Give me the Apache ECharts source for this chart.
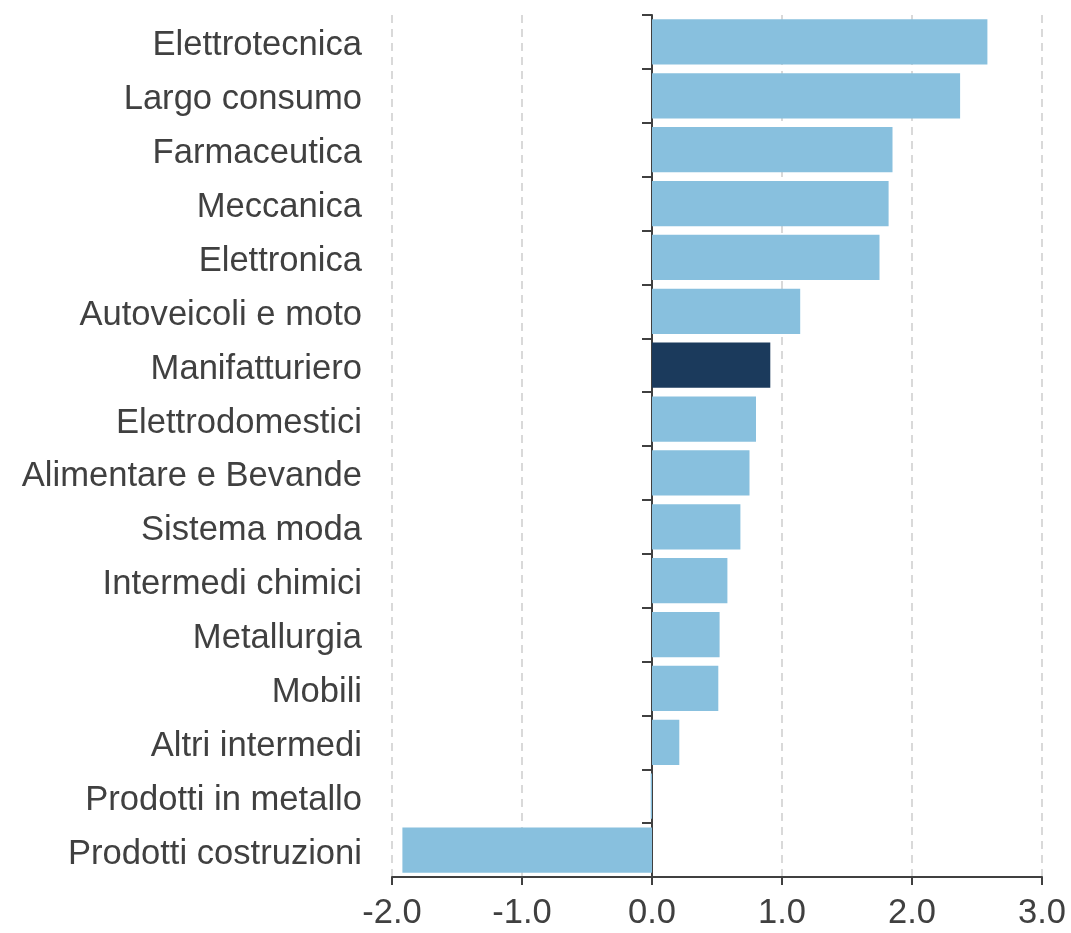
<!DOCTYPE html>
<html>
<head>
<meta charset="utf-8">
<script src="https://cdn.jsdelivr.net/npm/echarts@6/dist/echarts.min.js"></script>
<style>
html,body{margin:0;padding:0;background:#fff;}
#chart{width:1071px;height:933px;}
</style>
</head>
<body>
<div id="chart"></div>
<script>
const categories = ["Elettrotecnica","Largo consumo","Farmaceutica","Meccanica","Elettronica","Autoveicoli e moto","Manifatturiero","Elettrodomestici","Alimentare e Bevande","Sistema moda","Intermedi chimici","Metallurgia","Mobili","Altri intermedi","Prodotti in metallo","Prodotti costruzioni"];
const values = [2.58, 2.37, 1.85, 1.82, 1.75, 1.14, 0.91, 0.80, 0.75, 0.68, 0.58, 0.52, 0.51, 0.21, -0.01, -1.92];
const highlight = "Manifatturiero";
const xTicks = [-2, -1, 0, 1, 2, 3];

const chart = echarts.init(document.getElementById('chart'), null, {renderer:'canvas'});
const textColor = '#404040';
const font = 'Liberation Sans, Arial, sans-serif';
chart.setOption({
  animation: false,
  grid: {left: 392, right: 29, top: 15, bottom: 56, containLabel: false, outerBoundsMode: 'none'},
  xAxis: {
    type: 'value', min: xTicks[0], max: xTicks[xTicks.length-1], interval: 1,
    axisLine: {show: true, onZero: false, lineStyle: {color: textColor, width: 2}},
    axisTick: {show: true, length: 8, lineStyle: {color: textColor, width: 2}},
    axisLabel: {color: textColor, fontSize: 34.5, fontFamily: font, margin: 19,
      formatter: v => v.toFixed(1)},
    splitLine: {show: true, lineStyle: {color: '#d9d9d9', type: [8, 6], width: 2}}
  },
  yAxis: {
    type: 'category', inverse: true, data: categories,
    axisLine: {show: true, onZero: true, lineStyle: {color: textColor, width: 2}},
    axisTick: {show: true, length: 10, lineStyle: {color: textColor, width: 2}},
    axisLabel: {color: textColor, fontSize: 34.6, fontFamily: font, margin: 30,
      formatter: v => '{a|' + v + '}',
      rich: {a: {color: textColor, fontSize: 34.6, fontFamily: font, padding: [8, 0, 0, 0]}}},
    splitLine: {show: false}
  },
  series: [{
    type: 'bar',
    barCategoryGap: '16%',
    data: values.map((v, i) => ({
      value: v,
      itemStyle: {color: categories[i] === highlight ? '#1b3a5c' : '#88c0de'}
    }))
  }]
});
</script>
</body>
</html>
